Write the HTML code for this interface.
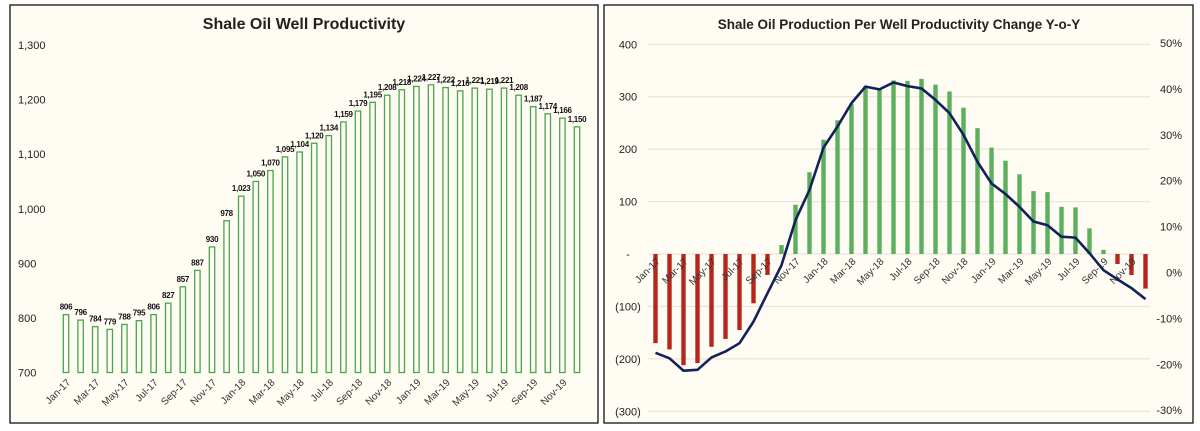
<!DOCTYPE html>
<html><head><meta charset="utf-8"><style>
body{margin:0;background:#fff;width:1200px;height:431px;overflow:hidden;font-family:"Liberation Sans",sans-serif}
svg{position:absolute;left:0;top:0}
</style></head><body>
<svg width="1200" height="431">
<rect x="10" y="5" width="588" height="418" fill="#fffcf3" stroke="#111" stroke-width="1.3"/>
<rect x="604" y="5" width="589" height="418" fill="#fffcf3" stroke="#111" stroke-width="1.3"/>
<text x="304" y="29" text-anchor="middle" font-size="16" font-weight="bold" fill="#222">Shale Oil Well Productivity</text>
<text x="899" y="29" text-anchor="middle" font-size="13.5" font-weight="bold" fill="#222">Shale Oil Production Per Well Productivity Change Y-o-Y</text>
<g id="L"></g><g id="R"></g>
</svg>
<script>
const months=["Jan","Feb","Mar","Apr","May","Jun","Jul","Aug","Sep","Oct","Nov","Dec"];
const categories=[];for(const y of ["17","18","19"])for(const m of months)categories.push(m+"-"+y);
const productivity=[806,796,784,779,788,795,806,827,857,887,930,978,1023,1050,1070,1095,1104,1120,1134,1159,1179,1195,1208,1218,1224,1227,1222,1216,1221,1219,1221,1208,1187,1174,1166,1150];
const leftTicks=[700,800,900,1000,1100,1200,1300];
const changeVals=[-170,-182,-212,-208,-177,-162,-145,-94,-40,17,94,156,218,255,286,320,313,331,330,334,323,310,279,240,203,178,152,120,118,90,89,49,8,-19,-40,-66];
const pctVals=[-17.5,-18.7,-21.4,-21.2,-18.5,-17.2,-15.4,-10.7,-4.5,1.6,11.4,18,27.2,31.8,36.9,40.5,39.9,41.4,40.6,40.1,37.6,34.7,30,24.1,19.4,17.1,14.3,11.1,10.3,7.8,7.6,4.2,0.5,-1.5,-3.4,-5.8];
const rightTicks=[-300,-200,-100,0,100,200,300,400];
const pctTicks=[-30,-20,-10,0,10,20,30,40,50];
const NS="http://www.w3.org/2000/svg";
function mk(p,t,a,txt){const e=document.createElementNS(NS,t);for(const k in a)e.setAttribute(k,a[k]);if(txt!=null)e.textContent=txt;p.appendChild(e);return e;}
function fmt(v){return v.toLocaleString("en-US");}
// Left chart
const L=document.getElementById("L");
const lx=i=>66+i*14.6, ly=v=>372.5-(v-700)*(327.5/600);
leftTicks.forEach(t=>{const e=mk(L,"text",{x:18,y:ly(t)+4,"font-size":11,fill:"#222"},fmt(t));

});
productivity.forEach((v,i)=>{
const r=mk(L,"rect",{x:lx(i)-2.7,y:ly(v),width:5.4,height:ly(700)-ly(v),fill:"#fffcf3",stroke:"#4aa64a","stroke-width":1.3});


const t=mk(L,"text",{x:lx(i),y:ly(v)-5,"text-anchor":"middle","font-size":8,"font-weight":"bold",fill:"#111","letter-spacing":"-0.3"},fmt(v));


if(i%2==0){const c=mk(L,"text",{transform:`translate(${lx(i)+5},${383}) rotate(-45)`,"text-anchor":"end","font-size":10,fill:"#333"},categories[i]);

}
});
// Right chart
const R=document.getElementById("R");
const rx=i=>655.5+i*14.0, ry=v=>254-v*0.5243, py=p=>272.5-p*4.59;
rightTicks.forEach(t=>{const g=mk(R,"line",{x1:648,x2:1150,y1:ry(t),y2:ry(t),stroke:"#e2e0d8","stroke-width":1});


const e=mk(R,"text",{x:628,y:ry(t)+4,"text-anchor":"middle","font-size":11,fill:"#222"},t==0?"-":t<0?"("+(-t)+")":String(t));

});
pctTicks.forEach(t=>{const e=mk(R,"text",{x:1182,y:py(t)+4,"text-anchor":"end","font-size":11,fill:"#222"},t+"%");

});
changeVals.forEach((v,i)=>{
const r=mk(R,"rect",{x:rx(i)-2.2,y:Math.min(ry(v),ry(0)),width:4.4,height:Math.abs(ry(v)-ry(0)),fill:v<0?"#b8261a":"#5cb05c"});


if(i%2==0){const c=mk(R,"text",{transform:`translate(${rx(i)+5},${262}) rotate(-45)`,"text-anchor":"end","font-size":10,fill:"#333"},categories[i]);

}
});
const pl=mk(R,"polyline",{points:pctVals.map((p,i)=>rx(i)+","+py(p)).join(" "),fill:"none",stroke:"#13215a","stroke-width":2.6,"stroke-linejoin":"round"});


</script>
</body></html>
